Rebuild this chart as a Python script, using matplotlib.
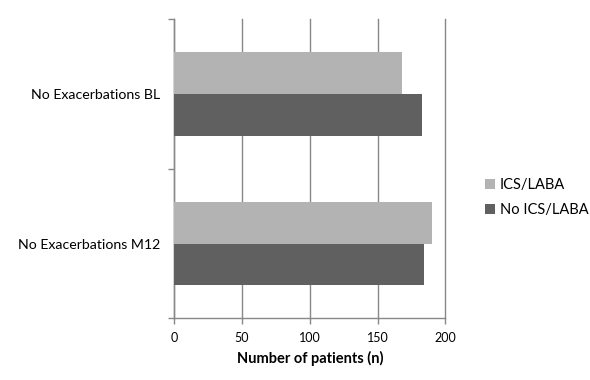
import matplotlib.pyplot as plt
from matplotlib.patches import Patch
import numpy as np

plt.rcParams['font.family'] = ['Lato', 'DejaVu Sans']

# categories from bottom to top
categories = ['No Exacerbations M12', 'No Exacerbations BL']
ics_laba = [190, 168]
no_ics_laba = [184, 183]
x_ticks = [0, 50, 100, 150, 200]

light = '#b3b3b3'
dark = '#606060'
grid_col = '#888888'

fig = plt.figure(figsize=(5.9, 3.8), dpi=100)
ax = fig.add_axes([0.2954, 0.1624, 0.4593, 0.7866])

y = np.arange(len(categories))
h = 0.28
ax.barh(y + h / 2, ics_laba, height=h, color=light, zorder=3)
ax.barh(y - h / 2, no_ics_laba, height=h, color=dark, zorder=3)

ax.set_xlim(0, 200)
ax.set_ylim(-0.5, 1.5)
ax.set_xticks(x_ticks)
ax.set_xticklabels([str(t) for t in x_ticks], fontsize=9)

# category labels between tick marks
ax.set_yticks([-0.5, 0.5, 1.5])
ax.set_yticklabels([])
ax.set_yticks(y, minor=True)
ax.set_yticklabels(categories, minor=True, fontsize=10.2)
ax.tick_params(axis='y', which='minor', length=0, pad=10)
ax.tick_params(axis='y', which='major', length=4, color=grid_col, width=1)
ax.tick_params(axis='x', length=4, color=grid_col, width=1, pad=6)

ax.grid(axis='x', color=grid_col, linewidth=1, zorder=0)
for gl in ax.get_xgridlines():
    gl.set_clip_on(False)
for s in ['top', 'right']:
    ax.spines[s].set_visible(False)
for s in ['left', 'bottom']:
    ax.spines[s].set_color(grid_col)
    ax.spines[s].set_linewidth(1)

ax.set_xlabel('Number of patients (n)', fontsize=10.5, fontweight='bold', labelpad=5)

handles = [Patch(facecolor=light, label='ICS/LABA'),
           Patch(facecolor=dark, label='No ICS/LABA')]
fig.legend(handles=handles, loc='center left', bbox_to_anchor=(0.8, 0.48),
           frameon=False, fontsize=10.5, handlelength=0.7, handleheight=0.7,
           handletextpad=0.3, labelspacing=0.8)

fig.savefig('out.png', dpi=100)
